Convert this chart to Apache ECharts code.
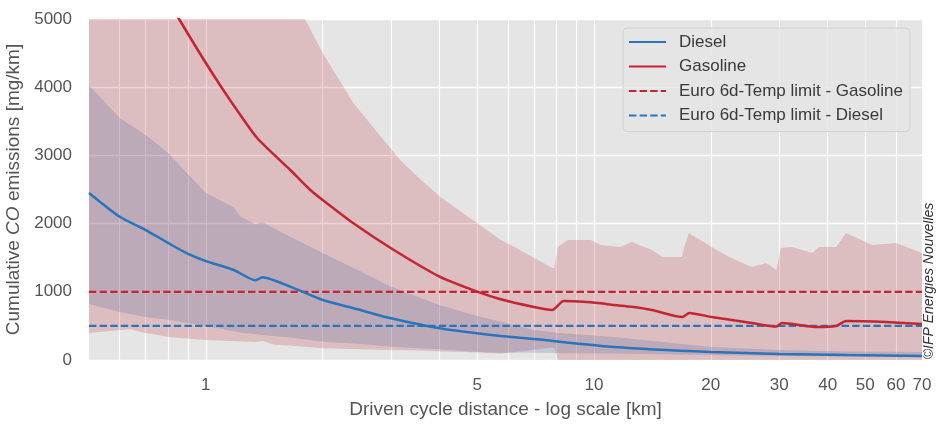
<!DOCTYPE html>
<html>
<head>
<meta charset="utf-8">
<script src="https://cdn.jsdelivr.net/npm/echarts@6/dist/echarts.min.js"></script>
<style>
html,body{margin:0;padding:0;background:#fff;}
#chart{width:938px;height:424px;}
</style>
</head>
<body>
<div id="chart"></div>
<script>
// ---- axis settings ----
const xMin = 0.5, xMax = 70;
const xTickLabels = [1, 5, 10, 20, 30, 40, 50, 60, 70];
const xGridValues = [0.6, 0.7, 0.8, 0.9, 1, 2, 3, 4, 5, 6, 7, 8, 9, 10, 20, 30, 40, 50, 60, 70];
const yMin = 0, yMax = 5000, yStep = 1000;

// ---- limits ----
const limitGasoline = 1000;
const limitDiesel = 500;

// ---- Diesel mean ----
const dieselMeanKm = [0.50, 0.60, 0.70, 0.80, 0.90, 1.00, 1.18, 1.34, 1.40, 1.65, 2.0, 2.46, 3.0, 4.0, 5.0, 5.75, 7.0, 11.3, 20, 30, 45, 70];
const dieselMean   = [2450, 2100, 1905, 1715, 1555, 1450, 1320, 1170, 1212, 1075, 880, 743, 611, 464, 391, 352, 308, 191, 117, 88, 72, 59];

// ---- Gasoline mean ----
const gasMeanKm = [0.795, 0.853, 1.0, 1.155, 1.356, 1.65, 1.858, 2.0, 2.4, 3.0, 4.0, 5.0, 5.75, 7.0, 7.8, 8.35, 9.4, 10.4, 11.25, 12.5, 14.1, 16.9, 17.6, 20.1, 25.5, 29.5, 30.5, 37.4, 42.1, 44.6, 56.6, 70];
const gasMean   = [5300, 5000, 4355, 3810, 3255, 2786, 2493, 2346, 2004, 1638, 1222, 1002, 890, 777, 733, 865, 855, 831, 806, 780, 733, 630, 690, 630, 542, 490, 542, 484, 500, 572, 557, 528];

// ---- Gasoline band ----
const gasBandKm = [0.50, 0.60, 0.64, 0.70, 0.80, 1.0, 1.35, 1.40, 1.50, 1.60, 1.80, 2.0, 2.4, 2.82, 3.17, 3.57, 4.02, 4.44, 5.0, 5.75, 6.36, 7.73, 7.9, 8.07, 8.56, 9.81, 10.4, 11.7, 12.5, 14.1, 15.0, 16.85, 17.05, 17.56, 20.1, 22.3, 25.5, 27.8, 29.5, 30.3, 32.4, 36.5, 38.0, 42.1, 44.6, 52.1, 60.1, 70];
const gasUpper  = [12000, 11000, 10500, 10000, 9000, 8000, 6800, 6600, 6100, 5600, 5000, 4500, 3768, 3280, 2933, 2650, 2390, 2214, 2009, 1760, 1630, 1364, 1340, 1657, 1760, 1760, 1686, 1657, 1730, 1613, 1510, 1510, 1642, 1862, 1657, 1510, 1364, 1422, 1320, 1642, 1657, 1569, 1657, 1657, 1862, 1686, 1716, 1569];
const gasLower  = [396, 440, 450, 396, 337, 293, 264, 279, 225, 215, 195, 171, 160, 150, 147, 140, 125, 120, 110, 95, 120, 180, 180, 0, 0, 0, 0, 0, 0, 0, 0, 0, 0, 0, 0, 0, 0, 0, 0, 0, 0, 0, 0, 0, 0, 0, 0, 0];

// ---- Diesel band ----
const dieselBandKm = [0.50, 0.60, 0.70, 0.80, 1.0, 1.18, 1.23, 1.34, 1.40, 1.65, 2.0, 2.46, 3.0, 4.0, 4.9, 5.75, 7.0, 8.0, 11.25, 20.1, 30, 45, 70];
const dieselUpper  = [4030, 3550, 3300, 3035, 2450, 2240, 2100, 1990, 2020, 1808, 1569, 1320, 1075, 806, 660, 560, 440, 400, 337, 191, 147, 125, 117];
const dieselLower  = [821, 704, 630, 590, 500, 420, 400, 380, 365, 330, 269, 240, 196, 156, 120, 108, 105, 103, 95, 73, 60, 50, 44];

// ---- colours ----
const blue = '#2a74bc';
const red = '#c42530';
const FONT = "'Liberation Sans', Arial, sans-serif";

const zip = (xs, ys) => xs.map((x, i) => [x, ys[i]]);

const chart = echarts.init(document.getElementById('chart'), null, {renderer: 'canvas'});

// band drawn as one polygon (lower edge forward, upper edge backward) via the axes' scales
function bandSeries(name, xs, lo, hi, fill) {
  return {
    name: name, type: 'custom', xAxisIndex: 0, yAxisIndex: 0, silent: true, z: 2, clip: true,
    data: xs.map((x, i) => [x, lo[i], hi[i]]),
    encode: {x: 0, y: [1, 2]},
    renderItem: function (params, api) {
      if (params.dataIndex !== 0) return;
      const pts = [];
      for (let i = 0; i < xs.length; i++) pts.push(api.coord([xs[i], lo[i]]));
      for (let i = xs.length - 1; i >= 0; i--) pts.push(api.coord([xs[i], hi[i]]));
      const cs = params.coordSys;
      return {
        type: 'polygon',
        shape: {points: pts},
        style: {fill: fill, stroke: null},
        clipPath: {type: 'rect', shape: {x: cs.x, y: cs.y, width: cs.width, height: cs.height}}
      };
    }
  };
}

const option = {
  animation: false,
  backgroundColor: '#ffffff',
  textStyle: {fontFamily: FONT},
  grid: {left: 89, right: 16, top: 19, bottom: 64, show: true, backgroundColor: '#e5e5e5', borderWidth: 0, outerBoundsMode: 'none', containLabel: false},
  legend: {
    data: ['Diesel', 'Gasoline', 'Euro 6d-Temp limit - Gasoline', 'Euro 6d-Temp limit - Diesel'],
    orient: 'vertical',
    left: 623, top: 28,
    padding: [5, 7, 7, 5],
    itemWidth: 37, itemHeight: 14, itemGap: 6.5,
    selectedMode: false,
    itemStyle: {opacity: 0},
    backgroundColor: 'rgba(229,229,229,0.85)',
    borderColor: '#d2d2d2', borderWidth: 1, borderRadius: 4,
    textStyle: {fontFamily: FONT, fontSize: 17, color: '#3a3a3a', lineHeight: 18, padding: [0, 0, 0, 8]}
  },
  xAxis: [
    {
      type: 'log', logBase: 10, min: xMin, max: xMax, show: false
    },
    {
      type: 'value', position: 'bottom',
      min: Math.log10(xMin), max: Math.log10(xMax),
      axisLine: {show: false},
      axisTick: {show: false, customValues: xGridValues.map(v => Math.log10(v))},
      axisLabel: {
        customValues: xTickLabels.map(v => Math.log10(v)),
        formatter: v => String(Math.round(Math.pow(10, v))),
        fontSize: 17, color: '#555', margin: 17, fontFamily: FONT
      },
      splitLine: {show: true, lineStyle: {color: '#ffffff', width: 1.2}},
      name: 'Driven cycle distance - log scale [km]',
      nameLocation: 'middle', nameGap: 40,
      nameTextStyle: {fontSize: 19, color: '#555', fontFamily: FONT}
    }
  ],
  yAxis: {
    type: 'value', min: yMin, max: yMax, interval: yStep,
    axisLine: {show: false}, axisTick: {show: false},
    axisLabel: {fontSize: 17, color: '#555', margin: 17, fontFamily: FONT, formatter: v => String(v)},
    splitLine: {show: true, lineStyle: {color: '#ffffff', width: 1.3}},
    name: '{n|Cumulative }{i|CO}{n| emissions [mg/km]}',
    nameLocation: 'middle', nameGap: 60,
    nameTextStyle: {
      fontSize: 19, color: '#555', fontFamily: FONT,
      rich: {
        n: {fontSize: 19, color: '#555', fontFamily: FONT},
        i: {fontSize: 19, color: '#555', fontFamily: FONT, fontStyle: 'italic'}
      }
    }
  },
  graphic: [{
    type: 'text', x: 929, y: 281, rotation: Math.PI / 2,
    style: {text: '©IFP Energies Nouvelles', font: 'italic 14px ' + FONT, fill: '#333', align: 'center', verticalAlign: 'middle'}
  }],
  series: [
    {
      name: 'Euro 6d-Temp limit - Gasoline', type: 'line', xAxisIndex: 0, symbol: 'none',
      data: [[xMin, limitGasoline], [xMax, limitGasoline]],
      lineStyle: {color: red, width: 2.2, type: [7.4, 3.2]}, itemStyle: {color: red}, z: 2
    },
    {
      name: 'Euro 6d-Temp limit - Diesel', type: 'line', xAxisIndex: 0, symbol: 'none',
      data: [[xMin, limitDiesel], [xMax, limitDiesel]],
      lineStyle: {color: blue, width: 2.2, type: [7.4, 3.2]}, itemStyle: {color: blue}, z: 2
    },
    bandSeries('gasBand', gasBandKm, gasLower, gasUpper, 'rgba(185,35,50,0.2)'),
    bandSeries('dieselBand', dieselBandKm, dieselLower, dieselUpper, 'rgba(60,90,150,0.2)'),
    {
      name: 'Diesel', type: 'line', xAxisIndex: 0, symbol: 'none', smooth: 0.2,
      data: zip(dieselMeanKm, dieselMean),
      lineStyle: {color: blue, width: 2.5}, itemStyle: {color: blue}, z: 3
    },
    {
      name: 'Gasoline', type: 'line', xAxisIndex: 0, symbol: 'none', smooth: 0.2,
      data: zip(gasMeanKm, gasMean),
      lineStyle: {color: red, width: 2.5}, itemStyle: {color: red}, z: 3
    }
  ]
};
chart.setOption(option);
</script>
</body>
</html>
